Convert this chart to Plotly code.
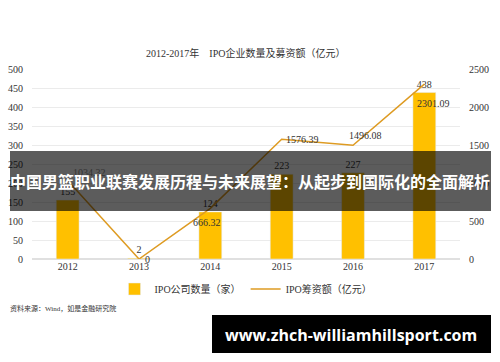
import plotly.graph_objects as go

years = ["2012", "2013", "2014", "2015", "2016", "2017"]
ipo_count = [155, 2, 124, 223, 227, 438]
ipo_amount = [1034.32, 0, 666.32, 1576.39, 1496.08, 2301.09]
amount_text = ["1034.32", "0", "666.32", "1576.39", "1496.08", "2301.09"]
left_ticks = [0, 50, 100, 150, 200, 250, 300, 350, 400, 450, 500]
right_ticks = [0, 500, 1000, 1500, 2000, 2500]

# label offsets (pixels) for the amount labels
label_shift = [(22, 8), (8, 0), (-3, -14), (21, 0), (12, 10), (9, -19)]

SERIF = "Liberation Serif, Noto Sans CJK SC, serif"
W, H = 500, 362
L, R, T, B = 32, 460, 69, 259

def px(x):
    return (x - L) / (R - L)

def py(y):
    return (B - y) / (B - T)

fig = go.Figure()
fig.add_trace(go.Bar(
    x=years, y=ipo_count, name="IPO公司数量（家）",
    marker=dict(color="#FFC000"), width=0.32,
    text=[str(v) for v in ipo_count], textposition="outside",
    textfont=dict(family=SERIF, size=10, color="#333333"),
    cliponaxis=False, yaxis="y",
))
fig.add_trace(go.Scatter(
    x=years, y=ipo_amount, name="IPO筹资额（亿元）", mode="lines",
    line=dict(color="#DE9B22", width=1.5),
    cliponaxis=False, yaxis="y2",
))

annotations = [
    dict(text="2012-2017年　IPO企业数量及募资额（亿元）", xref="paper", yref="paper",
         x=px(245), y=py(53), showarrow=False, xanchor="center", yanchor="middle",
         font=dict(family=SERIF, size=10, color="#333333")),
    dict(text="资料来源：Wind，如是金融研究院", xref="paper", yref="paper",
         x=px(8), y=py(308), showarrow=False, xanchor="left", yanchor="middle",
         font=dict(family=SERIF, size=7, color="#333333")),
]
for i, (val, txt, (dx, dy)) in enumerate(zip(ipo_amount, amount_text, label_shift)):
    annotations.append(dict(text=txt, x=i, y=val, xref="x", yref="y2", showarrow=False,
                            xshift=dx, yshift=dy, xanchor="center", yanchor="middle",
                            font=dict(family=SERIF, size=10, color="#333333")))
annotations += [
    dict(text="<b>中国男篮职业联赛发展历程与未来展望：从起步到国际化的全面解析</b>",
         xref="paper", yref="paper", x=px(250.5), y=py(181), showarrow=False,
         xanchor="center", yanchor="middle",
         font=dict(family="Noto Sans CJK SC", size=16, color="white")),
    dict(text="<b>www.zhch-williamhillsport.com</b>", xref="paper", yref="paper",
         x=px(351), y=py(335), showarrow=False, xanchor="center", yanchor="middle",
         font=dict(family="Open Sans", size=16, color="white")),
]

fig.update_layout(
    width=W, height=H,
    margin=dict(l=L, r=W - R, t=T, b=H - B, autoexpand=False),
    paper_bgcolor="white", plot_bgcolor="white",
    font=dict(family=SERIF, size=10, color="#333333"),
    showlegend=True,
    xaxis=dict(type="category", categoryarray=years, categoryorder="array",
               range=[-0.5, len(years) - 0.5],
               showgrid=False, showline=False, ticks="", automargin=False,
               tickfont=dict(family=SERIF, size=10, color="#333333")),
    yaxis=dict(range=[0, 500], tickvals=left_ticks, showgrid=True, gridcolor="#ebebeb",
               gridwidth=1, zeroline=True, zerolinecolor="#e0e0e0", ticks="",
               ticklabelstandoff=8, automargin=False,
               tickfont=dict(family=SERIF, size=10, color="#333333")),
    yaxis2=dict(range=[0, 2500], tickvals=right_ticks, overlaying="y", side="right",
                showgrid=False, zeroline=False, ticks="", ticklabelstandoff=8,
                automargin=False,
                tickfont=dict(family=SERIF, size=10, color="#333333")),
    legend=dict(orientation="h", x=0.5, xanchor="center", y=py(289), yanchor="middle",
                font=dict(family=SERIF, size=10, color="#333333"),
                itemwidth=30, tracegroupgap=0, bgcolor="rgba(0,0,0,0)"),
    shapes=[
        dict(type="rect", xref="paper", yref="paper", layer="above",
             x0=px(10), x1=px(491), y0=py(211), y1=py(151),
             fillcolor="rgba(0,0,0,0.64)", line=dict(width=0)),
        dict(type="rect", xref="paper", yref="paper", layer="above",
             x0=px(212), x1=px(491), y0=py(353), y1=py(315),
             fillcolor="#000000", line=dict(width=0)),
    ],
    annotations=annotations,
)

fig.write_html("out.html", post_script="document.body.style.margin='0';",
               config={"displayModeBar": False})
